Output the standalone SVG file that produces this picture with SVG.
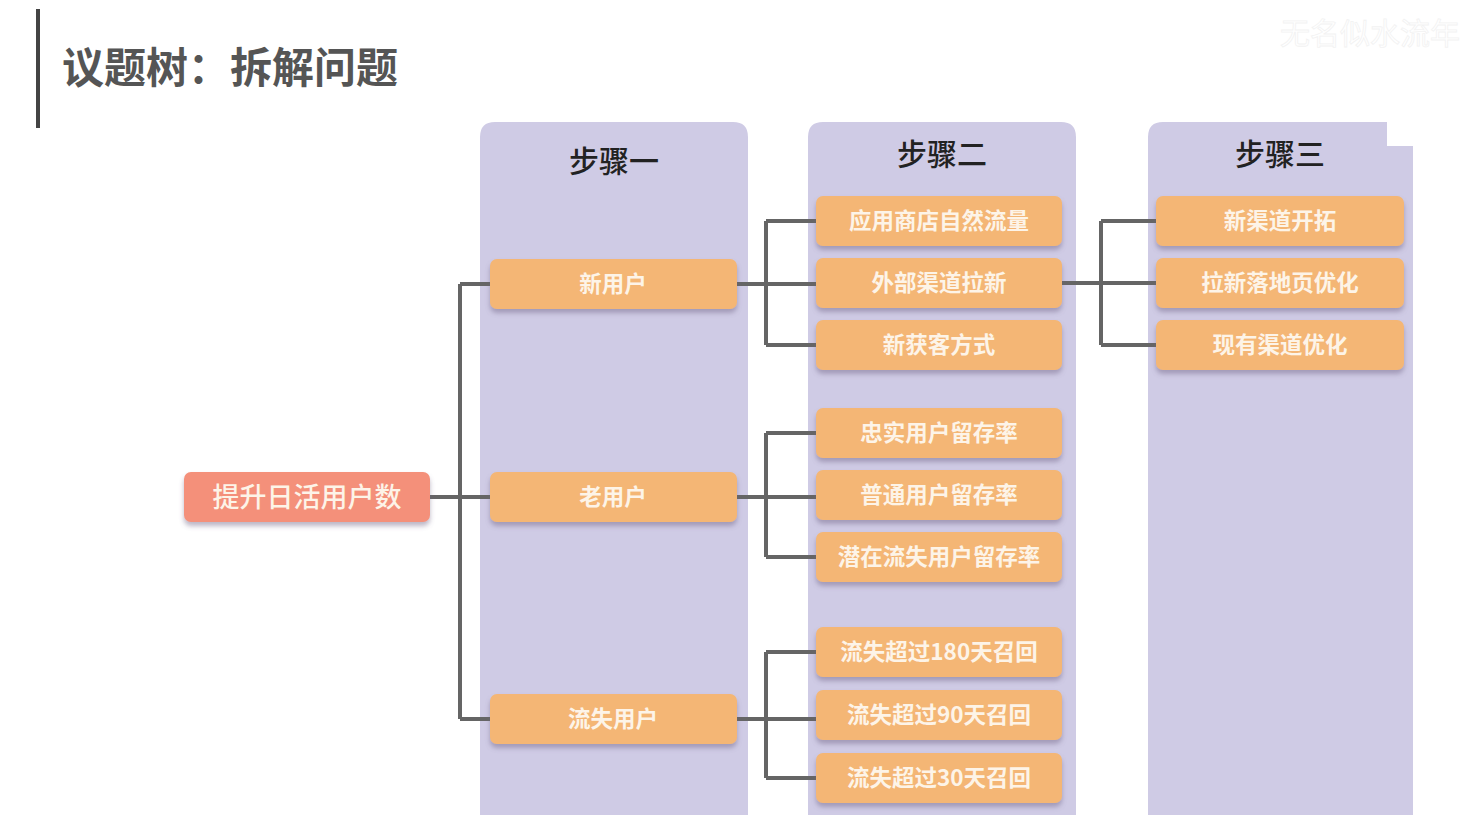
<svg xmlns="http://www.w3.org/2000/svg" width="1479" height="837" viewBox="0 0 1479 837">
<defs>
<filter id="sh" x="-10%" y="-20%" width="120%" height="160%">
<feDropShadow dx="0" dy="4" stdDeviation="2.5" flood-color="#6a5f80" flood-opacity="0.45"/>
</filter>
<style>
.col{fill:#cfcbe5}
.hd{font-family:"Noto Sans CJK SC","Noto Sans",sans-serif;font-size:30px;fill:#222;text-anchor:middle;font-weight:500}
.n{fill:#f4b674;filter:url(#sh)}
.r{fill:#f4907a;filter:url(#sh)}
.t{font-family:"Noto Sans CJK SC","Noto Sans",sans-serif;font-size:22.5px;fill:#fdf4e8;text-anchor:middle;dominant-baseline:central;font-weight:700}
.rt{font-size:27px;font-weight:500}
.c{stroke:#656565;stroke-width:4;fill:none;stroke-linejoin:miter}
</style>
</defs>
<rect width="1479" height="837" fill="#ffffff"/>
<text x="1370" y="44" font-family="Noto Sans CJK SC, sans-serif" font-size="30" fill="#ffffff" stroke="#f2f2f2" stroke-width="0.8" text-anchor="middle">无名似水流年</text>
<rect x="36" y="9" width="4" height="119" fill="#444"/>
<text x="62" y="83" font-family="Noto Sans CJK SC, sans-serif" font-size="42" font-weight="700" fill="#555">议题树：拆解问题</text>
<g id="columns">
<path class="col" d="M480 815 V137 Q480 122 495 122 H733 Q748 122 748 137 V815 Z"/>
<path class="col" d="M808 815 V137 Q808 122 823 122 H1061 Q1076 122 1076 137 V815 Z"/>
<path class="col" d="M1148 815 V137 Q1148 122 1163 122 H1387 V146 H1413 V815 Z"/>
<text class="hd" x="614" y="172">步骤一</text>
<text class="hd" x="942" y="165">步骤二</text>
<text class="hd" x="1280" y="165">步骤三</text>
</g>
<g id="connectors">
<path class="c" d="M430 497 H490 M460 284 V719 M460 284 H490 M460 719 H490"/>
<path class="c" d="M737 284 H816 M766 221 V345 M766 221 H816 M766 345 H816"/>
<path class="c" d="M737 497 H816 M766 433 V557 M766 433 H816 M766 557 H816"/>
<path class="c" d="M737 719 H816 M766 652 V778 M766 652 H816 M766 778 H816"/>
<path class="c" d="M1062 283 H1156 M1101 221 V345 M1101 221 H1156 M1101 345 H1156"/>
</g>
<g id="root"><rect class="r" x="184" y="472" width="246" height="50" rx="7"/><text class="t rt" x="307" y="495">提升日活用户数</text></g>
<g id="s1a"><rect class="n" x="490" y="259" width="247" height="50" rx="7"/><text class="t" x="613" y="282">新用户</text></g>
<g id="s1b"><rect class="n" x="490" y="472" width="247" height="50" rx="7"/><text class="t" x="613" y="495">老用户</text></g>
<g id="s1c"><rect class="n" x="490" y="694" width="247" height="50" rx="7"/><text class="t" x="613" y="717">流失用户</text></g>
<g id="s2a"><rect class="n" x="816" y="196" width="246" height="50" rx="7"/><text class="t" x="939" y="219">应用商店自然流量</text></g>
<g id="s2b"><rect class="n" x="816" y="258" width="246" height="50" rx="7"/><text class="t" x="939" y="281">外部渠道拉新</text></g>
<g id="s2c"><rect class="n" x="816" y="320" width="246" height="50" rx="7"/><text class="t" x="939" y="343">新获客方式</text></g>
<g id="s2d"><rect class="n" x="816" y="408" width="246" height="50" rx="7"/><text class="t" x="939" y="431">忠实用户留存率</text></g>
<g id="s2e"><rect class="n" x="816" y="470" width="246" height="50" rx="7"/><text class="t" x="939" y="493">普通用户留存率</text></g>
<g id="s2f"><rect class="n" x="816" y="532" width="246" height="50" rx="7"/><text class="t" x="939" y="555">潜在流失用户留存率</text></g>
<g id="s2g"><rect class="n" x="816" y="627" width="246" height="50" rx="7"/><text class="t" x="939" y="650">流失超过180天召回</text></g>
<g id="s2h"><rect class="n" x="816" y="690" width="246" height="50" rx="7"/><text class="t" x="939" y="713">流失超过90天召回</text></g>
<g id="s2i"><rect class="n" x="816" y="753" width="246" height="50" rx="7"/><text class="t" x="939" y="776">流失超过30天召回</text></g>
<g id="s3a"><rect class="n" x="1156" y="196" width="248" height="50" rx="7"/><text class="t" x="1280" y="219">新渠道开拓</text></g>
<g id="s3b"><rect class="n" x="1156" y="258" width="248" height="50" rx="7"/><text class="t" x="1280" y="281">拉新落地页优化</text></g>
<g id="s3c"><rect class="n" x="1156" y="320" width="248" height="50" rx="7"/><text class="t" x="1280" y="343">现有渠道优化</text></g>
</svg>
